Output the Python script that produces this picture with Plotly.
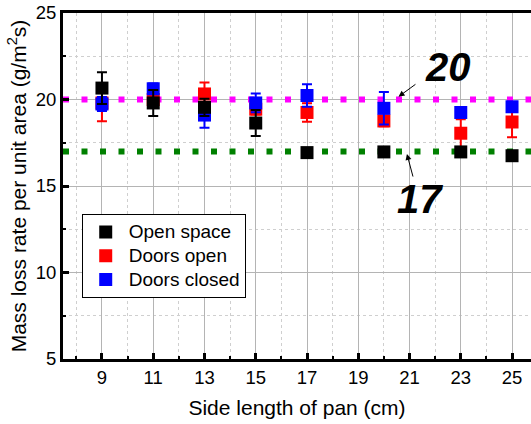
import plotly.graph_objects as go

# Pan side lengths (cm)
side_length = [9, 11, 13, 15, 17, 20, 23, 25]

# Mass loss rate per unit area (g/m^2 s) with standard deviations
open_space = [20.66, 19.80, 19.55, 18.64, 16.93, 16.97, 16.97, 16.75]
open_space_err = [0.92, 0.75, 0.50, 0.75, 0.15, 0.15, 0.15, 0.15]

doors_open = [19.80, 20.00, 20.32, 19.44, 19.25, 18.76, 18.05, 18.70]
doors_open_err = [1.05, 0.30, 0.66, 0.30, 0.53, 0.30, 0.81, 0.88]

doors_closed = [19.74, 20.62, 19.10, 19.80, 20.23, 19.49, 19.25, 19.58]
doors_closed_err = [0.40, 0.30, 0.73, 0.54, 0.65, 0.94, 0.20, 0.20]

# Reference levels
ref_high = 20
ref_low = 17

x_ticks = [9, 11, 13, 15, 17, 19, 21, 23, 25]
x_range = [7.48, 25.74]
y_range = [5, 25]

FONT = "Liberation Sans, Arial, sans-serif"


def legend_label(text):
    # larger glyphs while keeping compact legend rows
    return f"<span style='font-size:19px'>{text}</span>"


fig = go.Figure()

# Dotted reference lines
for level, color in [(ref_high, "#ff00ff"), (ref_low, "#008000")]:
    fig.add_trace(go.Scatter(
        x=x_range, y=[level, level], mode="lines",
        line=dict(color=color, width=6, dash="6px,12.5px"),
        showlegend=False, hoverinfo="skip",
    ))

series = [
    ("Doors open", doors_open, doors_open_err, "#ff0000", 2),
    ("Doors closed", doors_closed, doors_closed_err, "#0000ff", 3),
    ("Open space", open_space, open_space_err, "#000000", 1),
]
for name, vals, errs, color, rank in series:
    fig.add_trace(go.Scatter(
        x=side_length, y=vals, mode="markers", name=legend_label(name),
        legendrank=rank,
        marker=dict(symbol="square", size=13, color=color, line=dict(width=0)),
        error_y=dict(type="data", array=errs, visible=True,
                     color=color, thickness=2, width=5),
    ))

# Labels and arrows for the reference levels
fig.add_annotation(x=22.5, y=21.85, text="<b><i>20</i></b>", showarrow=False,
                   font=dict(family=FONT, size=40, color="black"))
fig.add_annotation(x=21.41, y=14.22, text="<b><i>17</i></b>", showarrow=False,
                   font=dict(family=FONT, size=40, color="black"))
fig.add_annotation(x=20.57, y=20.16, ax=21.29, ay=20.94, axref="x", ayref="y",
                   text="", showarrow=True, arrowhead=2, arrowsize=1.2,
                   arrowwidth=1, arrowcolor="black")
fig.add_annotation(x=20.9, y=16.85, ax=21.15, ay=15.46, axref="x", ayref="y",
                   text="", showarrow=True, arrowhead=2, arrowsize=1.2,
                   arrowwidth=1, arrowcolor="black")

axis_common = dict(
    showline=True, linecolor="black", linewidth=3,
    ticks="inside", ticklen=6, tickwidth=2.5, tickcolor="black",
    showgrid=True, gridcolor="#b4b4b4", gridwidth=1,
    zeroline=False,
    tickfont=dict(family=FONT, size=18.5, color="black"),
)

fig.update_xaxes(
    **axis_common,
    range=x_range, tickmode="array", tickvals=x_ticks,
    mirror=True,
    minor=dict(dtick=2, tick0=8, ticks="inside", ticklen=3, tickwidth=2,
               tickcolor="black", showgrid=True, gridcolor="#cfcfcf",
               griddash="dot", gridwidth=1),
    title=dict(text="Side length of pan (cm)",
               font=dict(family=FONT, size=21, color="black"), standoff=14),
)
fig.update_yaxes(
    **axis_common,
    range=y_range, tick0=5, dtick=5,
    minor=dict(dtick=2.5, tick0=5, ticks="inside", ticklen=3, tickwidth=2,
               tickcolor="black", showgrid=True, gridcolor="#cfcfcf",
               griddash="dot", gridwidth=1),
    title=dict(text="Mass loss rate per unit area (g/m<sup>2</sup>s)",
               font=dict(family=FONT, size=21, color="black"), standoff=4),
)

fig.update_layout(
    width=531, height=424,
    margin=dict(l=63, r=0, t=13, b=65),
    paper_bgcolor="white", plot_bgcolor="white",
    font=dict(family=FONT, color="black"),
    legend=dict(x=0.04, y=0.419, xanchor="left", yanchor="top",
                bgcolor="white", bordercolor="black", borderwidth=1,
                font=dict(family=FONT, size=16, color="black"),
                itemwidth=36, tracegroupgap=0),
)

fig.write_html("out.html")
